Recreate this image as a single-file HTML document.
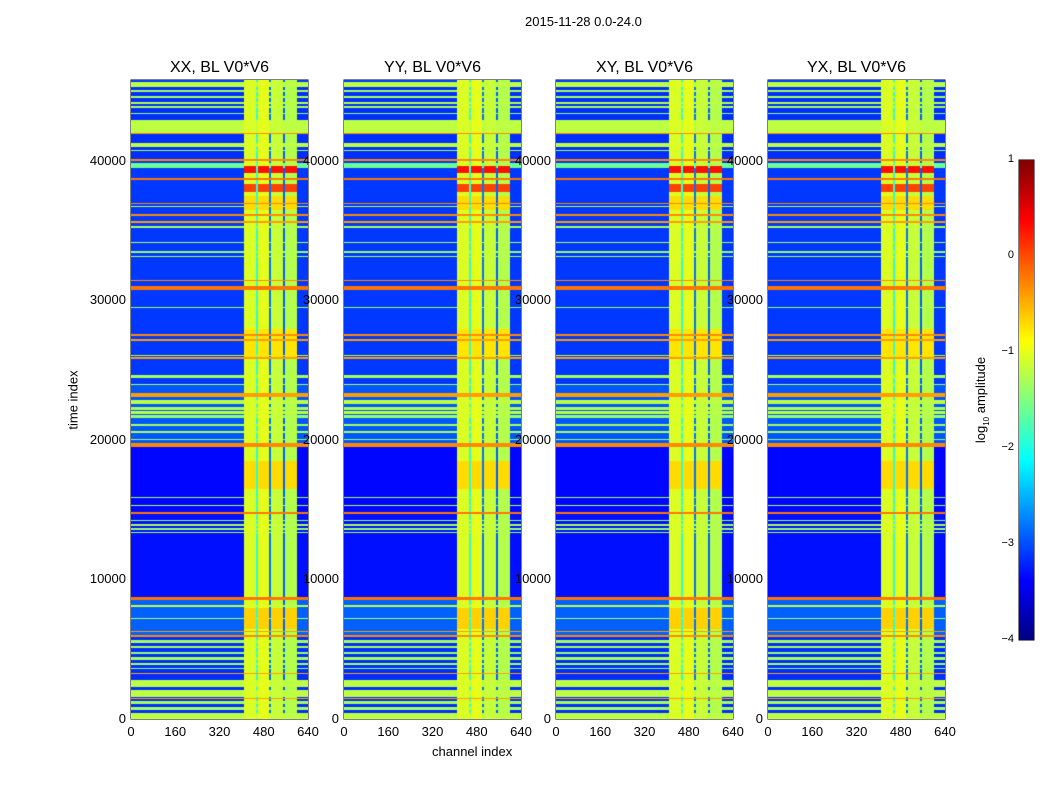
<!DOCTYPE html>
<html><head><meta charset="utf-8"><style>
body{margin:0;background:#fff;font-family:"Liberation Sans",sans-serif;}
#root{position:relative;width:1050px;height:800px;background:#fff;overflow:hidden}
.t{position:absolute;font-size:13px;color:#000;white-space:nowrap}
.pt{position:absolute;font-size:16px;color:#000;white-space:nowrap;transform:translateX(-50%)}
canvas{position:absolute}
</style></head><body>
<div id="root">
<div class="t" style="left:525px;top:14px">2015-11-28 0.0-24.0</div>
<div class="t" style="left:432px;top:744px">channel index</div>
<div class="t" style="left:73px;top:400px;transform:translate(-50%,-50%) rotate(-90deg)">time index</div>
<div class="t" style="left:982px;top:400px;transform:translate(-50%,-50%) rotate(-90deg)">log<sub style="font-size:8px">10</sub> amplitude</div>
<svg id="ov" width="1050" height="800" style="position:absolute;left:0;top:0"></svg>
</div>
<script>
const panelTitles=["XX, BL V0*V6","YY, BL V0*V6","XY, BL V0*V6","YX, BL V0*V6"];
const xTicks=[0,160,320,480,640];
const yTicks=[0,10000,20000,30000,40000];
const cbTicks=[-4,-3,-2,-1,0,1];
const channelBands=[[405,451,-1.05,1],[451,458,-1.9,0],[458,498,-1.0,1],[498,505,-2.8,0],[505,548,-1.15,1],[548,556,-2.9,0],[556,598,-1.25,1]];
const baseSegments=[[0,6000,-3.15],[6000,8600,-2.9],[8600,14700,-3.3],[14700,19600,-3.35],[19600,24000,-2.95],[24000,40000,-3.1],[40000,45800,-3.15]];
const bandBoosts=[[39200,39700,0.3],[37800,38400,0.05],[36500,37500,-0.7],[26000,28000,-0.75],[16500,18500,-0.7],[6500,8000,-0.65]];
const stripes=[[45300,45700,-1.2],[45000,45150,-1.3],[44550,44700,-1.3],[44100,44250,-1.2],[43800,43950,-1.3],[43400,43500,-1.4],[42000,42950,-1.2],[41950,42050,-0.3],[41000,41300,-1.2],[40750,40850,-1.3],[40000,40150,-0.3],[39500,39900,-1.6],[38650,38800,-0.2],[36950,37050,-0.3],[36700,36800,-1.2],[36100,36200,-0.3],[35600,35700,-0.4],[35250,35350,-1.3],[34150,34250,-1.3],[33450,33550,-1.4],[33150,33250,-1.3],[31400,31500,-0.3],[30800,31100,-0.2],[29500,29600,-1.4],[27500,27600,-0.3],[27150,27250,-0.4],[26050,26150,-1.2],[25850,25950,-0.4],[24450,24700,-1.3],[23950,24050,-1.3],[23100,23400,-0.4],[22600,22900,-1.2],[22200,22400,-1.3],[21900,22100,-1.2],[21600,21800,-1.4],[21050,21150,-1.3],[20550,20650,-1.3],[20000,20100,-1.4],[19550,19850,-0.3],[15850,15950,-1.4],[15300,15400,-1.3],[14700,14850,-0.2],[14200,14300,-1.4],[13900,14000,-1.3],[13600,13700,-1.4],[13350,13450,-1.3],[8600,8750,-0.2],[8050,8200,-1.2],[7200,7300,-1.3],[6250,6350,-0.4],[5900,6050,-0.3],[5500,5700,-1.3],[5100,5250,-1.3],[4700,4850,-1.4],[4300,4450,-1.3],[3900,4050,-1.3],[3600,3700,-1.4],[3250,3350,-0.4],[2300,2800,-1.2],[1600,2100,-1.2],[1450,1550,-0.4],[1100,1300,-1.3],[700,900,-1.3],[0,450,-1.2]];

const panelLeft=[131,344,556,768], PW=177, PT=80, PH=639, TMAX=45800, CMAX=640;
const xs=c=>c/CMAX*PW, ys=t=>PH-t/TMAX*PH;
function jet(v){let x=(v+4)/5;x=Math.max(0,Math.min(1,x));
 const f=a=>Math.max(0,Math.min(1,a));
 return [f(1.5-Math.abs(4*x-3)),f(1.5-Math.abs(4*x-2)),f(1.5-Math.abs(4*x-1))].map(q=>Math.round(q*255));}
function valueAt(c,t){
 let v=-3;for(const s of baseSegments)if(t>=s[0]&&t<s[1])v=s[2];
 for(const b of channelBands)if(c>=b[0]&&c<b[1]){let bv=b[2];
  if(b[3])for(const q of bandBoosts)if(t>=q[0]&&t<q[1])bv=Math.max(bv,q[2]);
  v=Math.max(v,bv);}
 for(const s of stripes)if(t>=s[0]&&t<s[1])v=Math.max(v,s[2]);
 return v;}
const root=document.getElementById('root');
const NS="http://www.w3.org/2000/svg", ov=document.getElementById('ov');
function sv(tag,attrs){const e=document.createElementNS(NS,tag);for(const k in attrs)e.setAttribute(k,attrs[k]);ov.appendChild(e);return e;}
panelLeft.forEach((L,p)=>{
 const cv=document.createElement('canvas');cv.width=PW;cv.height=PH;cv.style.left=L+'px';cv.style.top=PT+'px';
 
 
 root.appendChild(cv);
 const ctx=cv.getContext('2d'),img=ctx.createImageData(PW,PH);
 for(let y=0;y<PH;y++){const t=(PH-y)/PH*TMAX;
  for(let x=0;x<PW;x++){const c=x/PW*CMAX;const col=jet(valueAt(c,t));const i=(y*PW+x)*4;
   img.data[i]=col[0];img.data[i+1]=col[1];img.data[i+2]=col[2];img.data[i+3]=255;}}
 ctx.putImageData(img,0,0);
 const fr=sv('rect',{x:L,y:PT,width:PW,height:PH,fill:'none',stroke:'#000','stroke-width':1});
 
 
 const tt=document.createElement('div');tt.className='pt';tt.style.left=(L+PW/2)+'px';tt.style.top='59px';tt.textContent=panelTitles[p];
 
 
 root.appendChild(tt);
 xTicks.forEach(v=>{const X=L+xs(v);
  sv('line',{x1:X,x2:X,y1:PT+PH,y2:PT+PH-4,stroke:'#000'});sv('line',{x1:X,x2:X,y1:PT,y2:PT+4,stroke:'#000'});
  const d=document.createElement('div');d.className='t';d.textContent=v;d.style.left=X+'px';d.style.top='724px';d.style.transform='translateX(-50%)';
  
  
  root.appendChild(d);});
 yTicks.forEach(v=>{const Y=PT+ys(v);
  sv('line',{x1:L,x2:L+4,y1:Y,y2:Y,stroke:'#000'});sv('line',{x1:L+PW,x2:L+PW-4,y1:Y,y2:Y,stroke:'#000'});
  const d=document.createElement('div');d.className='t';d.textContent=v;d.style.left=(L-5)+'px';d.style.top=(Y-8)+'px';d.style.transform='translateX(-100%)';
  
  
  root.appendChild(d);});
});
// colorbar
const CBL=1019,CBT=160,CBW=15,CBH=480;
const cb=document.createElement('canvas');cb.width=CBW;cb.height=CBH;cb.style.left=CBL+'px';cb.style.top=CBT+'px';


root.appendChild(cb);
const cctx=cb.getContext('2d');
for(let y=0;y<CBH;y++){const v=1-y/CBH*5;const c=jet(v);cctx.fillStyle=`rgb(${c[0]},${c[1]},${c[2]})`;cctx.fillRect(0,y,CBW,1);}
sv('rect',{x:CBL,y:CBT,width:CBW,height:CBH,fill:'none',stroke:'#000'});
cbTicks.forEach(v=>{const Y=CBT+(1-v)/5*CBH;
 sv('line',{x1:CBL,x2:CBL+4,y1:Y,y2:Y,stroke:'#000'});sv('line',{x1:CBL+CBW,x2:CBL+CBW-4,y1:Y,y2:Y,stroke:'#000'});
 const d=document.createElement('div');d.className='t';d.style.fontSize='11px';d.textContent=(v<0?'\u2212'+(-v):v);d.style.left=(CBL-5)+'px';d.style.top=(Y-7)+'px';d.style.transform='translateX(-100%)';
 
 
 root.appendChild(d);});
</script>
</body></html>
